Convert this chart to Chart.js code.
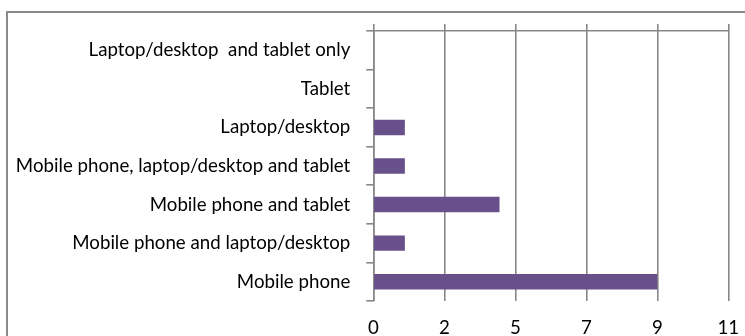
<!DOCTYPE html>
<html>
<head>
<meta charset="utf-8">
<script src="https://cdn.jsdelivr.net/npm/chart.js@4/dist/chart.umd.min.js"></script>
<style>
  html, body { margin: 0; padding: 0; background: #ffffff; }
  #wrap { position: relative; width: 745px; height: 336px; }
  canvas { display: block; }
</style>
</head>
<body>
<div id="wrap"><canvas id="chart" width="745" height="336"></canvas></div>
<script>
// Devices used, listed top to bottom
const categories = [
  'Laptop/desktop  and tablet only',
  'Tablet',
  'Laptop/desktop',
  'Mobile phone, laptop/desktop and tablet',
  'Mobile phone and tablet',
  'Mobile phone and laptop/desktop',
  'Mobile phone'
];
const counts = [0, 0, 1, 1, 4, 1, 9];
const xTickLabels = ['0', '2', '5', '7', '9', '11'];
const xMax = 11.25;
const xStep = 2.25;

const GRID = '#878787';
const BAR = '#68518a';
const FONT = 'Lato, "Open Sans", sans-serif';
const FONT_SIZE = 18.7;

// Outer frame around the chart, running off the right and bottom edges
const framePlugin = {
  id: 'frame',
  beforeDraw(chart) {
    const ctx = chart.ctx;
    ctx.save();
    ctx.strokeStyle = '#8a8a8a';
    ctx.lineWidth = 2;
    ctx.beginPath();
    ctx.moveTo(7, 340);
    ctx.lineTo(7, 12);
    ctx.lineTo(750, 12);
    ctx.stroke();
    ctx.restore();
  }
};

new Chart(document.getElementById('chart'), {
  type: 'bar',
  data: {
    labels: categories,
    datasets: [{
      data: counts,
      backgroundColor: BAR,
      borderWidth: 0,
      barPercentage: 0.4,
      categoryPercentage: 1
    }]
  },
  plugins: [framePlugin],
  options: {
    indexAxis: 'y',
    responsive: false,
    animation: false,
    layout: { padding: { left: 0, right: 16.7, top: 24, bottom: 0 } },
    plugins: { legend: { display: false }, tooltip: { enabled: false } },
    scales: {
      x: {
        position: 'bottom',
        min: 0,
        max: xMax,
        afterBuildTicks(scale) {
          scale.ticks = xTickLabels.map((_, i) => ({ value: i * xStep }));
        },
        grid: { color: GRID, lineWidth: 1.6, drawTicks: false },
        border: { display: false },
        ticks: {
          color: '#000000',
          // tall line box drops the labels below the plot without widening the side padding
          font: { family: FONT, size: FONT_SIZE, lineHeight: 2.91 },
          padding: 0,
          maxRotation: 0,
          autoSkip: false,
          callback: (v, i) => xTickLabels[i]
        },
        afterFit(scale) { scale.height = 35; }
      },
      xTop: {
        position: 'top',
        min: 0,
        max: xMax,
        afterBuildTicks(scale) {
          scale.ticks = xTickLabels.map((_, i) => ({ value: i * xStep }));
        },
        grid: { color: GRID, lineWidth: 1.6, drawOnChartArea: false, tickLength: 7 },
        border: { display: true, color: GRID, width: 1.6 },
        ticks: { display: false }
      },
      y: {
        position: 'left',
        offset: true,
        grid: { color: GRID, lineWidth: 1.6, drawOnChartArea: false, offset: true, tickLength: 7 },
        border: { display: true, color: GRID, width: 1.6 },
        ticks: {
          color: '#000000',
          font: { family: FONT, size: FONT_SIZE },
          padding: 16,
          autoSkip: false
        },
        afterFit(scale) { scale.width = 373.3; }
      }
    }
  }
});
</script>
</body>
</html>
